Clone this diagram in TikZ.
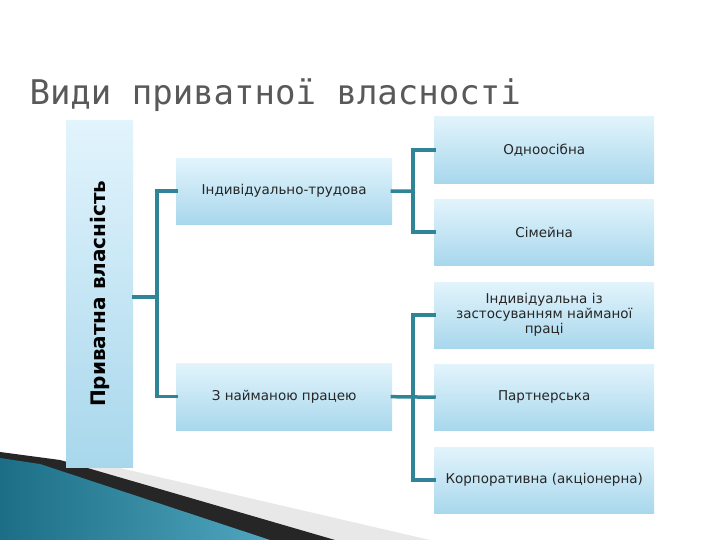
\documentclass[tikz,border=0pt]{standalone}
\usepackage{fontspec}
\setmainfont{DejaVu Sans}
\newfontfamily\titlefont{DejaVu Sans Mono}
\begin{document}
\begin{tikzpicture}[x=1pt,y=-1pt,
  box/.style={draw=none,top color=boxtop,bottom color=boxbot,inner sep=2pt,align=center,font=\fontsize{13.5}{16}\selectfont,text=black!85},
  conn/.style={draw=conncol,line width=3.5pt,line cap=rect}]
\definecolor{boxtop}{HTML}{E2F4FC}
\definecolor{boxbot}{HTML}{A8D7EC}
\definecolor{conncol}{HTML}{2F8597}
\definecolor{swdark}{HTML}{1B6E86}
\definecolor{swlight}{HTML}{4FA6BE}
\useasboundingbox (0,0) rectangle (720,540);
% decoration bottom-left
\fill[gray!18] (0,452) -- (120,468) -- (430,540) -- (0,540) -- cycle;
\fill[black!85] (0,452) -- (60,460) -- (335,540) -- (0,540) -- cycle;
\shade[left color=swdark, right color=swlight] (0,458) -- (40,464) -- (270,540) -- (0,540) -- cycle;
% title
\node[anchor=west,font=\titlefont\fontsize{34}{38}\selectfont,text=black!65] (title) at (26,95) {Види приватної власності};
% left box
\node[box,minimum width=67pt,minimum height=347pt,anchor=north west] (pv) at (66,120) {};
\node[rotate=90,font=\bfseries\fontsize{20}{24}\selectfont,text=black] (pvt) at (pv.center) {Приватна власність};
% middle boxes
\node[box,minimum width=216pt,minimum height=66pt,anchor=north west] (it) at (176,158) {Індивідуально-трудова};
\node[box,minimum width=216pt,minimum height=67pt,anchor=north west] (zn) at (176,363) {З найманою працею};
% right boxes
\node[box,minimum width=220pt,minimum height=67pt,anchor=north west] (o) at (434,116) {Одноосібна};
\node[box,minimum width=220pt,minimum height=66pt,anchor=north west] (s) at (434,199) {Сімейна};
\node[box,minimum width=220pt,minimum height=66pt,anchor=north west,text width=210pt,font=\fontsize{13.5}{15}\selectfont] (iz) at (434,282) {Індивідуальна із\\застосуванням найманої\\праці};
\node[box,minimum width=220pt,minimum height=66pt,anchor=north west] (p) at (434,364) {Партнерська};
\node[box,minimum width=220pt,minimum height=66pt,anchor=north west] (k) at (434,447) {Корпоративна (акціонерна)};
% connectors
\coordinate (j1) at (157,297);
\draw[conn] (pv.east |- j1) -- (j1);
\draw[conn] (it.west) -| (j1) |- (zn.west);
\draw[conn] (it.east) -- (413,191);
\draw[conn] (o.west |- 0,150) -| (413,191) |- (s.west |- 0,232);
\draw[conn] (zn.east) -- (p.west);
\draw[conn] (iz.west |- 0,315) -| (413,397) |- (k.west |- 0,480);
\end{tikzpicture}
\end{document}
